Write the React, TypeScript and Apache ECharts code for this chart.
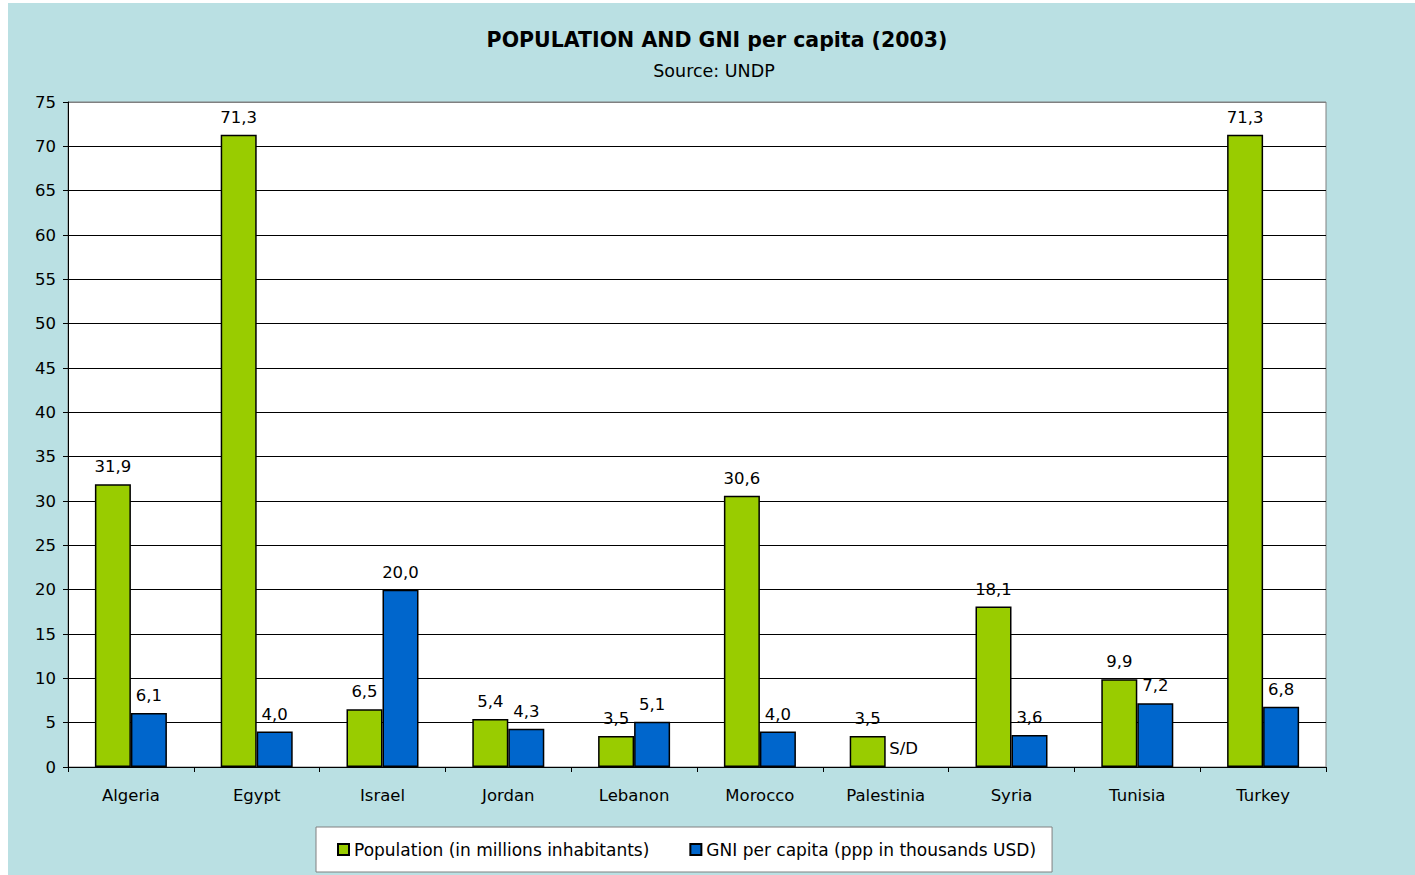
import React, { useEffect, useRef } from "react";
import * as echarts from "echarts";

const categories = ["Algeria", "Egypt", "Israel", "Jordan", "Lebanon", "Morocco", "Palestinia", "Syria", "Tunisia", "Turkey"];
const population = [31.9, 71.3, 6.5, 5.4, 3.5, 30.6, 3.5, 18.1, 9.9, 71.3];
const gni: (number | null)[] = [6.1, 4.0, 20.0, 4.3, 5.1, 4.0, null, 3.6, 7.2, 6.8];
const missingLabel = "S/D";
const seriesNames = ["Population (in millions inhabitants)", "GNI per capita (ppp in thousands USD)"];
const titleText = "POPULATION AND GNI per capita (2003)";
const subtitleText = "Source: UNDP";

const FONT = "'DejaVu Sans', sans-serif";
const fmt = (v: number) => v.toFixed(1).replace(".", ",");

export default function App() {
  const ref = useRef<HTMLDivElement>(null);
  useEffect(() => {
    if (!ref.current) return;
    const chart = echarts.init(ref.current, null, { renderer: "svg" });
    const splitColors: string[] = [];
    for (let i = 0; i < 16; i++) splitColors.push(i === 15 ? "#808080" : "#000000");
    const labelStyle = {
      show: true,
      position: "top" as const,
      distance: 9,
      color: "#000",
      fontSize: 16.5,
      fontFamily: FONT,
      formatter: (p: any) => fmt(p.value),
    };
    chart.setOption({
      animation: false,
      backgroundColor: "#bae0e3",
      textStyle: { fontFamily: FONT },
      graphic: [
        {
          type: "text",
          x: 709,
          y: 37,
          style: { text: titleText, font: `bold 20.5px ${FONT}`, fill: "#000", textAlign: "center", textVerticalAlign: "middle" },
        },
        {
          type: "text",
          x: 706,
          y: 68,
          style: { text: subtitleText, font: `17.5px ${FONT}`, fill: "#000", textAlign: "center", textVerticalAlign: "middle" },
        },
      ],
      grid: {
        left: 60,
        right: 89,
        top: 99,
        bottom: 108,
        show: true,
        backgroundColor: "#ffffff",
        borderColor: "#808080",
        borderWidth: 1,
      },
      legend: {
        data: seriesNames,
        left: 308,
        top: 824,
        icon: "rect",
        itemWidth: 11,
        itemHeight: 11,
        itemGap: 40,
        backgroundColor: "#ffffff",
        borderColor: "#808080",
        borderWidth: 1,
        padding: [14, 16, 14, 21],
        textStyle: { fontSize: 17, color: "#000", fontFamily: FONT, lineHeight: 16 },
      },
      xAxis: {
        type: "category",
        data: categories,
        axisLine: { lineStyle: { color: "#000", width: 1 } },
        axisTick: { show: true, length: 5, interval: 0, lineStyle: { color: "#000" } },
        axisLabel: { fontSize: 16.5, color: "#000", margin: 20, fontFamily: FONT },
        splitLine: { show: false },
      },
      yAxis: {
        type: "value",
        min: 0,
        max: 75,
        interval: 5,
        axisLine: { show: true, lineStyle: { color: "#000", width: 1 } },
        axisTick: { show: true, length: 5, lineStyle: { color: "#000" } },
        axisLabel: { fontSize: 16.5, color: "#000", margin: 12, fontFamily: FONT },
        splitLine: { show: true, lineStyle: { color: splitColors, width: 1 } },
      },
      series: [
        {
          name: seriesNames[0],
          type: "bar",
          data: population,
          barWidth: 36,
          barGap: "0%",
          itemStyle: { color: "#99cc00", borderColor: "#000", borderWidth: 1.5 },
          label: labelStyle,
        },
        {
          name: seriesNames[1],
          type: "bar",
          data: gni.map((v) =>
            v === null
              ? { value: 0, itemStyle: { borderWidth: 0 }, label: { formatter: missingLabel, offset: [0, -1] } }
              : v
          ),
          barWidth: 36,
          barGap: "0%",
          itemStyle: { color: "#0066cc", borderColor: "#000", borderWidth: 1.5 },
          label: labelStyle,
        },
      ],
    });
    return () => chart.dispose();
  }, []);
  return <div ref={ref} style={{ position: "absolute", left: 8, top: 3, width: 1407, height: 872 }} />;
}
